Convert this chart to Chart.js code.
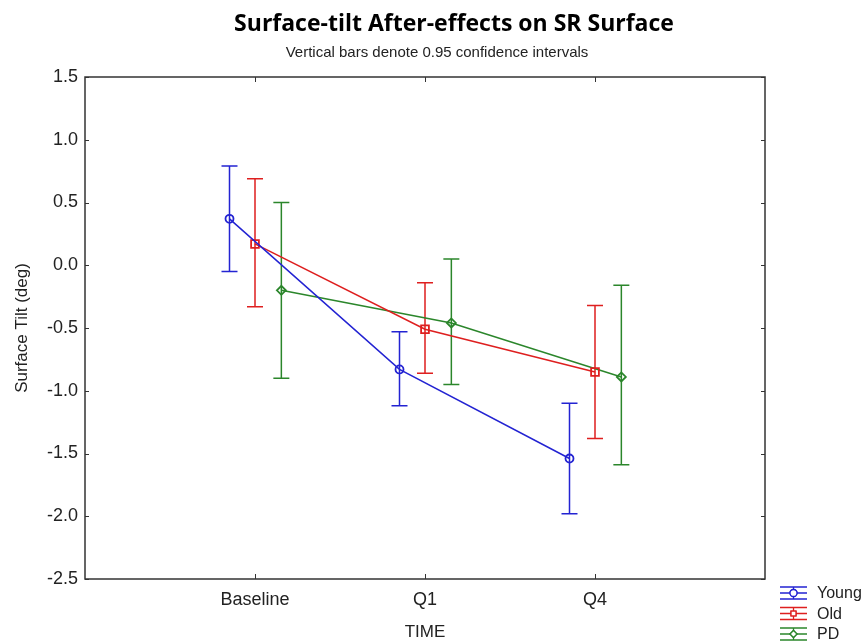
<!DOCTYPE html>
<html>
<head>
<meta charset="utf-8">
<script src="https://cdn.jsdelivr.net/npm/chart.js@4.4.1/dist/chart.umd.min.js"></script>
<style>
  html, body { margin: 0; padding: 0; background: #fff; }
  #wrap { width: 867px; height: 643px; }
</style>
</head>
<body>
<div id="wrap"><canvas id="chart" width="867" height="643"></canvas></div>
<script>
// values (means + 0.95 CI ends)
const timePoints = ['Baseline', 'Q1', 'Q4'];
const seriesNames = ['Young', 'Old', 'PD'];

const youngMean = [0.37, -0.83, -1.54];
const youngLow  = [-0.05, -1.12, -1.98];
const youngHigh = [0.79, -0.53, -1.10];

const oldMean = [0.17, -0.51, -0.85];
const oldLow  = [-0.33, -0.86, -1.38];
const oldHigh = [0.69, -0.14, -0.32];

const pdMean = [-0.20, -0.46, -0.89];
const pdLow  = [-0.90, -0.95, -1.59];
const pdHigh = [0.50, 0.05, -0.16];

const yTicks = [1.5, 1.0, 0.5, 0.0, -0.5, -1.0, -1.5, -2.0, -2.5];

const titleText = 'Surface-tilt After-effects on SR Surface';
const subtitleText = 'Vertical bars denote 0.95 confidence intervals';

// styling
const colors = ['#2323d2', '#de1f1f', '#2b862b'];
const markers = ['circle', 'rect', 'rectRot'];
const markerSize = [4, 5.5, 4.5];
const offsets = [-0.15, 0, 0.155]; // sideways dodge of each group
const textColor = '#222';

function makeSet(k, mean, low, high) {
    return {
        label: seriesNames[k],
        data: timePoints.map((t, i) => ({ x: i + 1 + offsets[k], y: mean[i] })),
        errLow: low,
        errHigh: high,
        borderColor: colors[k],
        borderWidth: 1.5,
        pointStyle: markers[k],
        pointRadius: markerSize[k],
        pointBorderColor: colors[k],
        pointBorderWidth: 1.8,
        pointBackgroundColor: 'rgba(255,255,255,0)',
        tension: 0
    };
}

// error bars with caps
const errorBars = {
    id: 'errorBars',
    beforeDatasetsDraw(chart) {
        const ctx = chart.ctx;
        const ys = chart.scales.y;
        chart.data.datasets.forEach((ds, k) => {
            const meta = chart.getDatasetMeta(k);
            ctx.save();
            ctx.strokeStyle = ds.borderColor;
            ctx.lineWidth = 1.5;
            meta.data.forEach((pt, i) => {
                const x = pt.x;
                const y1 = ys.getPixelForValue(ds.errLow[i]);
                const y2 = ys.getPixelForValue(ds.errHigh[i]);
                ctx.beginPath();
                ctx.moveTo(x, y1); ctx.lineTo(x, y2);
                ctx.moveTo(x - 8, y1); ctx.lineTo(x + 8, y1);
                ctx.moveTo(x - 8, y2); ctx.lineTo(x + 8, y2);
                ctx.stroke();
            });
            ctx.restore();
        });
    }
};

// box frame, inward ticks, titles and legend
const frame = {
    id: 'frame',
    afterDraw(chart) {
        const ctx = chart.ctx;
        const a = chart.chartArea;
        const xs = chart.scales.x, ys = chart.scales.y;
        ctx.save();
        ctx.strokeStyle = '#333';
        ctx.lineWidth = 1.5;
        ctx.strokeRect(a.left, a.top, a.right - a.left, a.bottom - a.top);
        ctx.lineWidth = 1;
        ctx.beginPath();
        ys.ticks.forEach(t => {
            const y = Math.round(ys.getPixelForValue(t.value)) + 0.5;
            ctx.moveTo(a.left, y); ctx.lineTo(a.left + 4, y);
            ctx.moveTo(a.right, y); ctx.lineTo(a.right - 4, y);
        });
        xs.ticks.forEach(t => {
            const x = Math.round(xs.getPixelForValue(t.value)) + 0.5;
            ctx.moveTo(x, a.bottom); ctx.lineTo(x, a.bottom - 5);
            ctx.moveTo(x, a.top); ctx.lineTo(x, a.top + 5);
        });
        ctx.stroke();

        // title + subtitle
        ctx.fillStyle = '#000';
        ctx.textAlign = 'center';
        ctx.textBaseline = 'alphabetic';
        ctx.font = 'bold 23px "Open Sans", sans-serif';
        ctx.fillText(titleText, 454, 31);
        ctx.fillStyle = textColor;
        ctx.font = '15px "Liberation Sans", Arial, sans-serif';
        ctx.fillText(subtitleText, 437, 57);

        // legend
        ctx.textAlign = 'left';
        ctx.textBaseline = 'middle';
        ctx.font = '16px "Liberation Sans", Arial, sans-serif';
        chart.data.datasets.forEach((ds, k) => {
            const cy = 593 + k * 20.5;
            const x0 = 780, x1 = 807, cx = (x0 + x1) / 2;
            ctx.strokeStyle = ds.borderColor;
            ctx.lineWidth = 1.3;
            ctx.beginPath();
            ctx.moveTo(x0, cy - 6); ctx.lineTo(x1, cy - 6);
            ctx.moveTo(x0, cy); ctx.lineTo(x1, cy);
            ctx.moveTo(x0, cy + 6); ctx.lineTo(x1, cy + 6);
            ctx.moveTo(cx, cy - 6); ctx.lineTo(cx, cy + 6);
            ctx.stroke();
            ctx.fillStyle = '#fff';
            Chart.helpers.drawPoint(ctx, { pointStyle: ds.pointStyle, radius: 3.5, borderWidth: 1.5 }, cx, cy);
            ctx.fill();
            ctx.stroke();
            ctx.fillStyle = textColor;
            ctx.fillText(ds.label, 817, cy + 1);
        });
        ctx.restore();
    }
};

new Chart(document.getElementById('chart'), {
    type: 'line',
    data: {
        datasets: [
            makeSet(0, youngMean, youngLow, youngHigh),
            makeSet(1, oldMean, oldLow, oldHigh),
            makeSet(2, pdMean, pdLow, pdHigh)
        ]
    },
    options: {
        responsive: false,
        animation: false,
        devicePixelRatio: 1,
        layout: { padding: { top: 77, right: 102, bottom: 0, left: 0 } },
        plugins: {
            legend: { display: false },
            title: { display: false },
            tooltip: { enabled: false }
        },
        scales: {
            x: {
                type: 'linear',
                min: 0,
                max: 4,
                afterBuildTicks: s => { s.ticks = timePoints.map((t, i) => ({ value: i + 1 })); },
                afterFit: s => { s.height = 64; },
                grid: { display: false, drawTicks: false },
                border: { display: false },
                ticks: {
                    padding: 10,
                    color: textColor,
                    font: { family: '"Liberation Sans", Arial, sans-serif', size: 18 },
                    callback: v => timePoints[v - 1]
                },
                title: {
                    display: true,
                    text: 'TIME',
                    color: textColor,
                    padding: { top: 1, bottom: 0 },
                    font: { family: '"Liberation Sans", Arial, sans-serif', size: 17 }
                }
            },
            y: {
                min: -2.5,
                max: 1.5,
                afterBuildTicks: s => { s.ticks = yTicks.map(v => ({ value: v })); },
                afterFit: s => { s.width = 85; },
                grid: { display: false, drawTicks: false },
                border: { display: false },
                ticks: {
                    padding: 7,
                    color: textColor,
                    font: { family: '"Liberation Sans", Arial, sans-serif', size: 18 },
                    callback: v => v.toFixed(1)
                },
                title: {
                    display: true,
                    text: 'Surface Tilt (deg)',
                    color: textColor,
                    padding: { top: 12, bottom: 0 },
                    font: { family: '"Liberation Sans", Arial, sans-serif', size: 17 }
                }
            }
        }
    },
    plugins: [errorBars, frame]
});
</script>
</body>
</html>
